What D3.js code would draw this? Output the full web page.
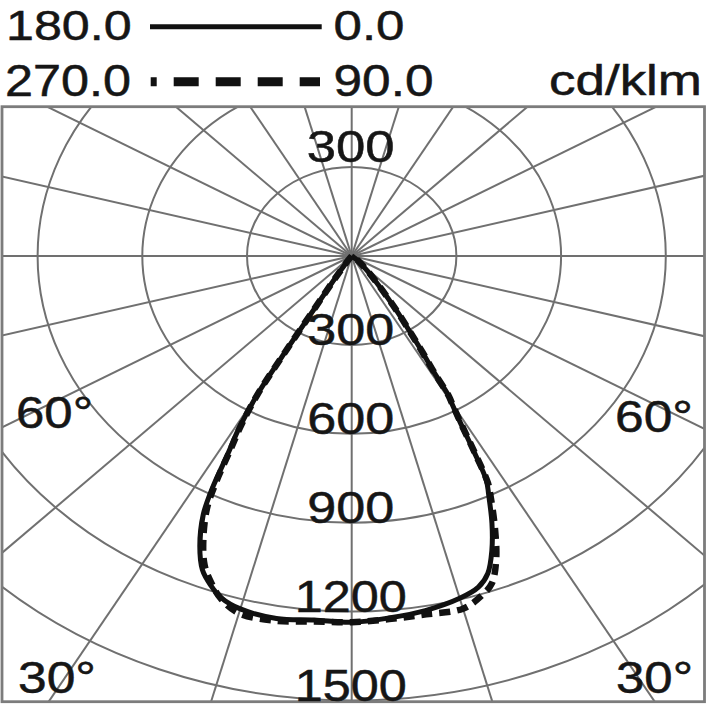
<!DOCTYPE html>
<html>
<head>
<meta charset="utf-8">
<script src="https://cdn.jsdelivr.net/npm/d3@7"></script>
<style>
  body { margin: 0; background: #fff; }
  text { font-family: "Liberation Sans", Helvetica, Arial, sans-serif; fill: #161616; stroke: #161616; stroke-width: 0.5; }
</style>
</head>
<body>
<svg width="720" height="720"></svg>
<script>

// gamma angles (degrees from nadir) and intensities in cd/klm
var angles = [0, 5, 10, 15, 18, 20, 22, 24, 26, 27, 28, 29, 30, 30.5, 31, 32, 33, 35, 38, 42, 50, 60, 75, 90];
var c0   = [1236, 1226, 1215, 1196, 1175, 1140, 1072, 988, 895, 850, 742, 640, 572, 545, 460, 380, 312, 220, 125, 65, 20, 0, 0, 0];
var c180 = [1236, 1233, 1242, 1233, 1212, 1182, 1142, 1070, 970, 880, 755, 670, 550, 380, 210, 110, 60, 20, 0, 0, 0, 0, 0, 0];
var c90  = [1236, 1230, 1228, 1232, 1205, 1175, 1105, 1010, 910, 860, 748, 645, 575, 548, 462, 382, 314, 222, 127, 66, 20, 0, 0, 0];
var c270 = [1236, 1238, 1250, 1248, 1215, 1175, 1125, 1045, 945, 855, 740, 655, 540, 370, 205, 105, 55, 18, 0, 0, 0, 0, 0, 0];

var ringValues = [300, 600, 900, 1200, 1500];
var spokeAngles = d3.range(0, 360, 15);
var angleLabels = ["60°", "30°"];
var legendLeft = ["180.0", "270.0"];
var legendRight = ["0.0", "90.0"];
var unitLabel = "cd/klm";

var svg = d3.select("svg");

var cx = 351.7, cy = 256;
var kx = 104.7 / 300, ky = 88.9 / 300;

// horizontal and vertical scales differ (the diagram is stretched sideways)
var x = d3.scaleLinear().domain([-1000, 1000]).range([cx - 1000 * kx, cx + 1000 * kx]);
var y = d3.scaleLinear().domain([-1000, 1000]).range([cy - 1000 * ky, cy + 1000 * ky]);

var frame = { x: 2, y: 106.7, w: 702.5, h: 595 };

svg.append("clipPath").attr("id", "clip")
  .append("rect")
  .attr("x", frame.x).attr("y", frame.y)
  .attr("width", frame.w).attr("height", frame.h);

var grid = svg.append("g").attr("clip-path", "url(#clip)");

grid.selectAll("ellipse")
  .data(ringValues)
  .enter()
  .append("ellipse")
  .attr("cx", x(0))
  .attr("cy", y(0))
  .attr("rx", function(d) { return x(d) - x(0); })
  .attr("ry", function(d) { return y(d) - y(0); })
  .attr("fill", "none")
  .attr("stroke", "#707070")
  .attr("stroke-width", 2);

grid.selectAll("line")
  .data(spokeAngles)
  .enter()
  .append("line")
  .attr("x1", x(0))
  .attr("y1", y(0))
  .attr("x2", function(d) { return x(3000 * Math.sin(d * Math.PI / 180)); })
  .attr("y2", function(d) { return y(3000 * Math.cos(d * Math.PI / 180)); })
  .attr("stroke", "#707070")
  .attr("stroke-width", 2);

svg.append("rect")
  .attr("x", frame.x).attr("y", frame.y)
  .attr("width", frame.w).attr("height", frame.h)
  .attr("fill", "none")
  .attr("stroke", "#7c7c7c")
  .attr("stroke-width", 2.8);

// one curve per plane pair: left half (descending angles) then right half
var planePoints = function(left, right)
{
  var pts = [];
  var i;
  var lastL = left.indexOf(0);
  if (lastL < 0) { lastL = left.length - 1; }
  for (i = lastL; i >= 1; i--) {
    pts.push({ a: -angles[i], r: left[i] });
  }
  pts.push({ a: 0, r: (left[0] + right[0]) / 2 });
  var lastR = right.indexOf(0);
  if (lastR < 0) { lastR = right.length - 1; }
  for (i = 1; i <= lastR; i++) {
    pts.push({ a: angles[i], r: right[i] });
  }
  return pts;
};

var line = d3.line()
  .x(function(d) { return x(d.r * Math.sin(d.a * Math.PI / 180)); })
  .y(function(d) { return y(d.r * Math.cos(d.a * Math.PI / 180)); })
  .curve(d3.curveCatmullRom.alpha(0.5));

svg.append("path")
  .attr("d", line(planePoints(c180, c0)))
  .attr("fill", "none")
  .attr("stroke", "#111")
  .attr("stroke-width", 5)
  .attr("stroke-linejoin", "round");

svg.append("path")
  .attr("d", line(planePoints(c270, c90)))
  .attr("fill", "none")
  .attr("stroke", "#111")
  .attr("stroke-width", 6.5)
  .attr("stroke-dasharray", "11,7");

var label = function(txt, px, py, size, width, anchor)
{
  svg.append("text")
    .attr("x", px)
    .attr("y", py)
    .attr("font-size", size)
    .attr("text-anchor", anchor || "start")
    .attr("textLength", width)
    .attr("lengthAdjust", "spacingAndGlyphs")
    .text(txt);
};

// ring value labels
label(String(ringValues[0]), x(0) - 1, y(-ringValues[0]) - 5, 44, 88, "middle");
ringValues.forEach(function(v)
{
  label(String(v), x(0) - 1, y(v), 44, String(v).length > 3 ? 112 : 87, "middle");
});

// angle labels
label(angleLabels[0], 16, 428, 44, 77);
label(angleLabels[0], 615, 432, 44, 78);
label(angleLabels[1], 18, 693, 44, 78);
label(angleLabels[1], 616, 693, 44, 77);

// legend
label(legendLeft[0], 6, 40, 43, 125.7);
label(legendLeft[1], 5, 96, 44, 126);
label(legendRight[0], 333.5, 40, 43, 71);
label(legendRight[1], 333.5, 96, 44, 100);
label(unitLabel, 702, 94.5, 42, 153, "end");

svg.append("line")
  .attr("x1", 150).attr("x2", 321.7)
  .attr("y1", 26.7).attr("y2", 26.7)
  .attr("stroke", "#111")
  .attr("stroke-width", 5);

svg.append("line")
  .attr("x1", 150.7).attr("x2", 320)
  .attr("y1", 81.7).attr("y2", 81.7)
  .attr("stroke", "#111")
  .attr("stroke-width", 9)
  .attr("stroke-dasharray", "25,17")
  .attr("stroke-dashoffset", 19);

</script>
</body>
</html>
